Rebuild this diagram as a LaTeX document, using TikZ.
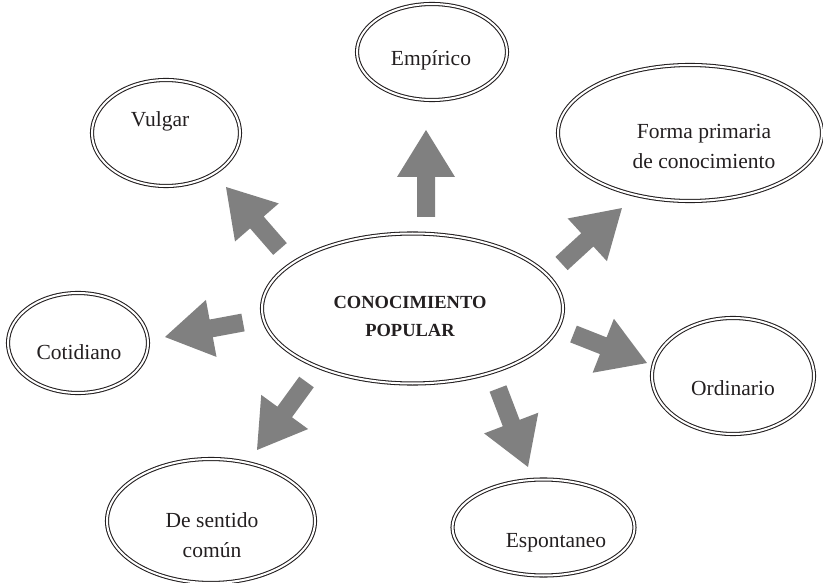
\documentclass[tikz,border=0pt]{standalone}
\usepackage{fontspec}
\setmainfont{Liberation Serif}
\usetikzlibrary{shapes.geometric,calc}
\definecolor{arrgray}{RGB}{128,128,128}
\definecolor{ink}{RGB}{35,31,32}
\tikzset{
  ell/.style={ellipse, draw=ink, double=white, double distance=2pt, line width=1.05pt, inner sep=0pt},
  txt/.style={font=\fontsize{21.5}{30}\selectfont, align=center, inner sep=0pt, text=ink},
  bigtxt/.style={font=\bfseries\fontsize{18.5}{28}\selectfont, align=center, inner sep=0pt, text=ink},
  blockarrow/.style={fill=arrgray}
}
\newcommand\myblockarr[2]{%
  \fill[blockarrow] let \p1=($(#2)-(#1)$), \n1={atan2(\y1,\x1)}, \n2={veclen(\x1,\y1)} in
    [shift={(#1)}, rotate=\n1] (0,-9) -- ({\n2-47},-9) -- ({\n2-47},-29) -- (\n2,0) -- ({\n2-47},29) -- ({\n2-47},9) -- (0,9) -- cycle;}
\begin{document}
\begin{tikzpicture}[x=1pt,y=-1pt]
\useasboundingbox (0,0) rectangle (823,583);
% ellipses
\node[ell, minimum width=301pt, minimum height=150pt] (cen) at (412.5,308.5) {};
\node[ell, minimum width=150pt, minimum height=96pt] (emp) at (432,52) {};
\node[ell, minimum width=148pt, minimum height=106pt] (vul) at (166,133) {};
\node[ell, minimum width=264pt, minimum height=136pt] (for) at (690,133) {};
\node[ell, minimum width=140pt, minimum height=100pt] (cot) at (78,343) {};
\node[ell, minimum width=162pt, minimum height=116pt] (ord) at (733,376) {};
\node[ell, minimum width=208pt, minimum height=124pt] (sen) at (211,521) {};
\node[ell, minimum width=182pt, minimum height=96pt] (esp) at (543.5,527.5) {};
% texts
\node[bigtxt] (tcen) at (410,316) {CONOCIMIENTO\\POPULAR};
\node[txt] (temp) at (431,60) {Empírico};
\node[txt] (tvul) at (160,121) {Vulgar};
\node[txt] (tfor) at (704,146) {Forma primaria\\de conocimiento};
\node[txt] (tcot) at (79,352) {Cotidiano};
\node[txt] (tord) at (733,388) {Ordinario};
\node[txt] (tsen) at (212,535) {De sentido\\común};
\node[txt] (tesp) at (556,543) {Espontaneo};
% arrow anchors
\coordinate (a1t) at (426,217);   \coordinate (a1h) at (426,130);
\coordinate (a2t) at (561.5,263.5); \coordinate (a2h) at (622,208);
\coordinate (a3t) at (243,322.5); \coordinate (a3h) at (165,337);
\coordinate (a4t) at (573.5,334); \coordinate (a4h) at (647,363);
\coordinate (a5t) at (306.5,382); \coordinate (a5h) at (257,450);
\coordinate (a6t) at (498,388.5); \coordinate (a6h) at (528,467);
\coordinate (a7t) at (280,249);   \coordinate (a7h) at (226,187);
\myblockarr{a1t}{a1h}
\myblockarr{a2t}{a2h}
\myblockarr{a3t}{a3h}
\myblockarr{a4t}{a4h}
\myblockarr{a5t}{a5h}
\myblockarr{a6t}{a6h}
\myblockarr{a7t}{a7h}
\end{tikzpicture}
\end{document}
